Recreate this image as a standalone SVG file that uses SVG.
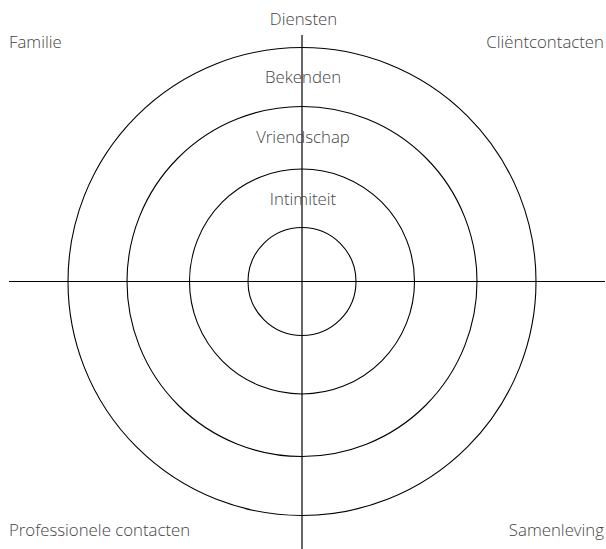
<svg xmlns="http://www.w3.org/2000/svg" width="606" height="549" viewBox="0 0 606 549">
<style>
.ring{fill:none;stroke:#000;stroke-width:1.1}
.ax{stroke:#000;stroke-width:1.2}
text{font-family:"Open Sans","DejaVu Sans",sans-serif;font-size:16.8px;fill:#444;font-weight:300}
.c{text-anchor:middle}
.e{text-anchor:end}
</style>
<rect width="606" height="549" fill="#fff"/>
<g id="connectors">
<line class="ax" x1="9" y1="281.5" x2="605" y2="281.5"/>
<line class="ax" x1="302" y1="35" x2="302" y2="549"/>
</g>
<g id="ring-outer"><circle class="ring" cx="302" cy="281.5" r="234"/></g>
<g id="ring-3"><circle class="ring" cx="302" cy="281.5" r="175"/></g>
<g id="ring-2"><circle class="ring" cx="302" cy="281.5" r="112.5"/></g>
<g id="ring-inner"><circle class="ring" cx="302" cy="281.5" r="54"/></g>
<g id="labels">
<text class="c" x="303.5" y="25">Diensten</text>
<text class="c" x="303" y="83">Bekenden</text>
<text class="c" x="303" y="143">Vriendschap</text>
<text class="c" x="303" y="205">Intimiteit</text>
<text x="9" y="48">Familie</text>
<text class="e" x="604" y="48">Cliëntcontacten</text>
<text x="9" y="536">Professionele contacten</text>
<text class="e" x="604" y="536">Samenleving</text>
</g>
</svg>
